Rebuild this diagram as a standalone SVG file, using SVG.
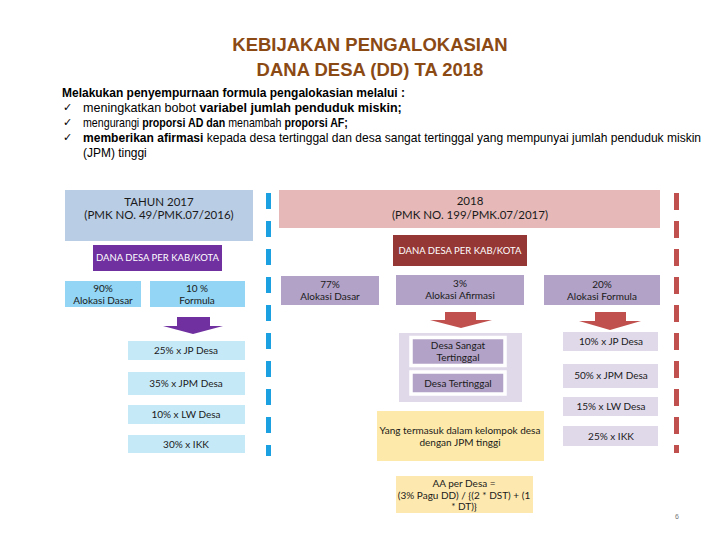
<svg xmlns="http://www.w3.org/2000/svg" width="720" height="540" viewBox="0 0 720 540">
<style>
.title{font-family:"Liberation Sans",Arial,sans-serif;font-weight:bold;font-size:18.5px;fill:#8B4A14;text-anchor:middle}
.intro{font-family:"Liberation Sans",Arial,sans-serif;font-size:13px;fill:#000}
.b{font-weight:bold}
.chk{font-family:"DejaVu Sans",sans-serif;font-size:11px;fill:#000}
.t{font-family:Lato,"Open Sans",sans-serif;font-size:10px;fill:#1a1a1a;text-anchor:middle}
.h{font-family:Lato,"Open Sans",sans-serif;font-size:11.5px;fill:#1a1a1a;text-anchor:middle}
.w{font-family:Lato,"Open Sans",sans-serif;font-size:9.5px;fill:#fff;text-anchor:middle}
.blue{fill:#c6e9f8}
.blue2{fill:#92d5f4}
.lav{fill:#b2a2c7}
.lav2{fill:#e0d9ea}
.yel{fill:#fde9a9}
</style>
<rect width="720" height="540" fill="#fff"/>
<g id="title">
<text class="title" x="370" y="51">KEBIJAKAN PENGALOKASIAN</text>
<text class="title" x="370" y="76">DANA DESA (DD) TA 2018</text>
</g>
<g id="intro">
<text class="chk" x="63" y="111">✓</text>
<text class="chk" x="63" y="126">✓</text>
<text class="chk" x="63" y="141">✓</text>
<g transform="translate(62,0) scale(0.922,1)"><text class="intro b" x="0" y="97">Melakukan penyempurnaan formula pengalokasian melalui :</text></g>
<g transform="translate(83,0) scale(0.967,1)"><text class="intro" x="0" y="112">meningkatkan bobot <tspan class="b">variabel jumlah penduduk miskin;</tspan></text></g>
<g transform="translate(83,0) scale(0.82,1)"><text class="intro" x="0" y="127">mengurangi <tspan class="b">proporsi AD dan</tspan> menambah <tspan class="b">proporsi AF;</tspan></text></g>
<g transform="translate(83,0) scale(0.927,1)"><text class="intro" x="0" y="142"><tspan class="b">memberikan afirmasi</tspan> kepada desa tertinggal dan desa sangat tertinggal yang mempunyai  jumlah penduduk miskin</text></g>
<g transform="translate(83,0) scale(0.92,1)"><text class="intro" x="0" y="157">(JPM) tinggi</text></g>
</g>
<g id="dividers">
<line x1="268.5" y1="193" x2="268.5" y2="456" stroke="#1ba1e2" stroke-width="5" stroke-dasharray="16 12"/>
<line x1="676.5" y1="193" x2="676.5" y2="453" stroke="#c0504d" stroke-width="5" stroke-dasharray="17 11"/>
</g>
<g id="connectors">
<polygon points="177,317 210,317 210,326 223,326 193,334 163,326 177,326" fill="#7030a0"/>
<polygon points="445,312 476,312 476,320 492,320 461,328 430,320 445,320" fill="#c0504d"/>
<polygon points="595,312 626,312 626,321 641,321 610,330 579,321 595,321" fill="#c0504d"/>
</g>
<g id="n2017">
<rect x="65" y="190" width="188" height="51" fill="#b9cde5"/>
<text class="h" x="159" y="206">TAHUN 2017</text>
<text class="h" x="159" y="219">(PMK NO. 49/PMK.07/2016)</text>
</g>
<g id="dd2017">
<rect x="93" y="245" width="129" height="26" fill="#7030a0"/>
<text class="w" x="157.5" y="261">DANA DESA PER KAB/KOTA</text>
</g>
<g id="ad2017">
<rect class="blue2" x="65" y="281" width="76" height="26"/>
<text class="t" x="103" y="292">90%</text>
<text class="t" x="103" y="304">Alokasi Dasar</text>
</g>
<g id="f2017">
<rect class="blue2" x="150" y="281" width="95" height="26"/>
<text class="t" x="197" y="292">10 %</text>
<text class="t" x="197" y="304">Formula</text>
</g>
<g id="jp2017"><rect class="blue" x="128" y="341" width="117" height="19"/><text class="t" x="186" y="354">25% x JP Desa</text></g>
<g id="jpm2017"><rect class="blue" x="128" y="372" width="117" height="23"/><text class="t" x="186" y="387">35% x JPM Desa</text></g>
<g id="lw2017"><rect class="blue" x="128" y="405" width="117" height="19"/><text class="t" x="186" y="418">10% x LW Desa</text></g>
<g id="ikk2017"><rect class="blue" x="128" y="435" width="117" height="18"/><text class="t" x="186" y="448">30% x IKK</text></g>
<g id="n2018">
<rect x="279" y="190" width="381" height="38" fill="#e6b9b8"/>
<text class="h" x="470" y="205">2018</text>
<text class="h" x="470" y="219">(PMK NO. 199/PMK.07/2017)</text>
</g>
<g id="dd2018">
<rect x="393" y="235" width="134" height="31" fill="#953735"/>
<text class="w" x="460" y="254">DANA DESA PER KAB/KOTA</text>
</g>
<g id="ad2018">
<rect class="lav" x="281" y="276" width="98" height="29"/>
<text class="t" x="330" y="288">77%</text>
<text class="t" x="330" y="300">Alokasi Dasar</text>
</g>
<g id="af2018">
<rect class="lav" x="396" y="275" width="128" height="30"/>
<text class="t" x="460" y="287">3%</text>
<text class="t" x="460" y="299">Alokasi Afirmasi</text>
</g>
<g id="f2018">
<rect class="lav" x="544" y="275" width="116" height="30"/>
<text class="t" x="602" y="288">20%</text>
<text class="t" x="602" y="300">Alokasi Formula</text>
</g>
<g id="afgroup">
<rect class="lav2" x="399" y="333" width="123" height="69"/>
<rect class="lav" x="411" y="337.5" width="94" height="28" stroke="#fff" stroke-width="3.5"/>
<text class="t" x="458" y="349">Desa Sangat</text>
<text class="t" x="458" y="361">Tertinggal</text>
<rect class="lav" x="411" y="372" width="94" height="22" stroke="#fff" stroke-width="3.5"/>
<text class="t" x="458" y="387">Desa Tertinggal</text>
</g>
<g id="jpmtinggi">
<rect class="yel" x="377" y="411" width="167" height="50"/>
<text class="t" x="460" y="434">Yang termasuk dalam kelompok desa</text>
<text class="t" x="460" y="446">dengan JPM tinggi</text>
</g>
<g id="aa">
<rect x="396" y="476" width="137" height="37" fill="#fde9b0"/>
<text class="t" x="464" y="487">AA per Desa =</text>
<text class="t" x="464" y="499">(3% Pagu DD) / {(2 * DST) + (1</text>
<text class="t" x="464" y="510">* DT)}</text>
</g>
<g id="jp2018"><rect class="lav2" x="563" y="332" width="95" height="19"/><text class="t" x="611" y="345">10% x JP Desa</text></g>
<g id="jpm2018"><rect class="lav2" x="563" y="364" width="95" height="24"/><text class="t" x="611" y="379">50% x JPM Desa</text></g>
<g id="lw2018"><rect class="lav2" x="563" y="397" width="95" height="19"/><text class="t" x="611" y="410">15% x LW Desa</text></g>
<g id="ikk2018"><rect class="lav2" x="563" y="426" width="95" height="20"/><text class="t" x="611" y="440">25% x IKK</text></g>
<text x="675" y="519" font-family="Liberation Sans,sans-serif" font-size="7" fill="#777">6</text>
</svg>
